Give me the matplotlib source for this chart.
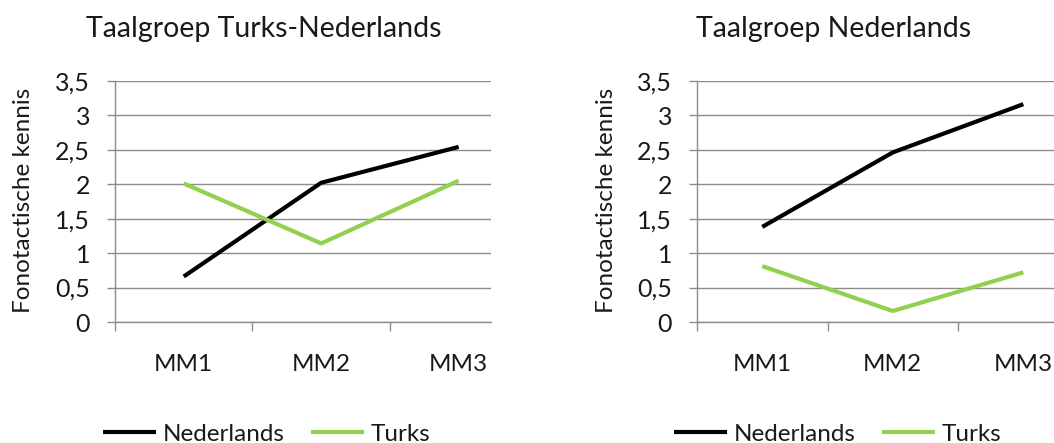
import numpy as np
import matplotlib
matplotlib.use("Agg")
import matplotlib.pyplot as plt

plt.rcParams['font.family'] = ['Lato', 'DejaVu Sans']

momenten = ["MM1", "MM2", "MM3"]
series_names = ["Nederlands", "Turks"]
colors = ["#000000", "#92D050"]

# taalgroep Turks-Nederlands
tn_nederlands = [0.66, 2.02, 2.54]
tn_turks = [2.01, 1.14, 2.05]

# taalgroep Nederlands
nl_nederlands = [1.38, 2.46, 3.16]
nl_turks = [0.81, 0.16, 0.72]

titles = ["Taalgroep Turks-Nederlands", "Taalgroep Nederlands"]
panels = [(tn_nederlands, tn_turks), (nl_nederlands, nl_turks)]

fig = plt.figure(figsize=(10.54, 4.43), dpi=100)
ax_pos = [[0.1091, 0.2731, 0.3567, 0.5447],
          [0.6613, 0.2731, 0.3387, 0.5447]]
title_x = [0.250, 0.791]
ylabel_x = [0.022, 0.575]
legend_x = [0.2529, 0.7946]

grey = "#8c8c8c"
txt = "#1a1a1a"
x = np.arange(1, len(momenten) + 1)

for i, (ned, tur) in enumerate(panels):
    ax = fig.add_axes(ax_pos[i])
    ax.plot(x, ned, color=colors[0], lw=3, label=series_names[0], solid_capstyle="butt")
    ax.plot(x, tur, color=colors[1], lw=3, label=series_names[1], solid_capstyle="butt")

    ax.set_xlim(0.5, 3.235)
    ax.set_ylim(0, 3.5)
    ax.set_yticks(np.arange(0, 3.51, 0.5))
    ax.set_yticklabels([("%g" % v).replace(".", ",") for v in np.arange(0, 3.51, 0.5)])
    ax.yaxis.grid(True, color=grey, lw=1)
    ax.set_axisbelow(True)

    ax.set_xticks([0.5, 1.5, 2.5])
    ax.set_xticklabels([])
    ax.set_xticks(x, minor=True)
    ax.set_xticklabels(momenten, minor=True)
    ax.tick_params(axis="x", which="major", length=6.5, color=grey, width=1)
    ax.tick_params(axis="x", which="minor", length=0, pad=23, labelsize=17.5, labelcolor=txt)
    ax.tick_params(axis="y", length=6, color=grey, width=1, pad=12, labelsize=18, labelcolor=txt)

    for s in ["top", "right"]:
        ax.spines[s].set_visible(False)
    for s in ["left", "bottom"]:
        ax.spines[s].set_color(grey)
        ax.spines[s].set_linewidth(1)

    fig.text(title_x[i], 0.935, titles[i], ha="center", va="center", fontsize=20.5, color=txt)
    fig.text(ylabel_x[i], 0.547, "Fonotactische kennis", rotation=90,
             ha="center", va="center", fontsize=17.5, color=txt)

    ax.legend(loc="center", bbox_to_anchor=(legend_x[i], 0.02), bbox_transform=fig.transFigure,
              ncol=2, frameon=False, fontsize=17.5, handlelength=2.2, handletextpad=0.25,
              columnspacing=1.1, labelcolor=txt)

fig.savefig("out.png", dpi=100)
